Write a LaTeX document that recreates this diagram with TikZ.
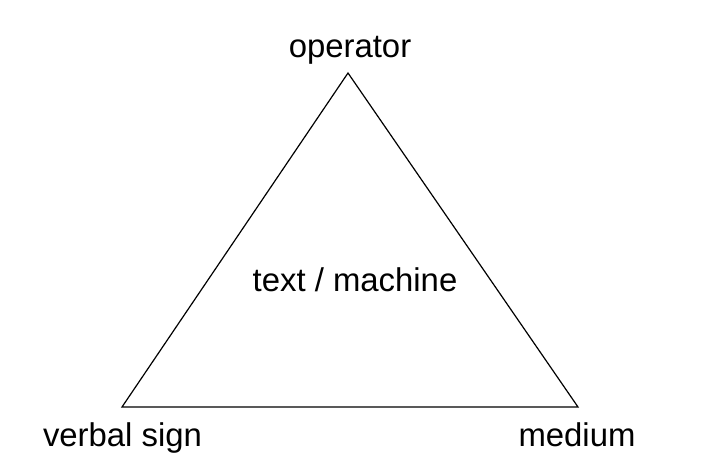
\documentclass[tikz,border=0pt]{standalone}
\usepackage{fontspec}
\setmainfont{Liberation Sans}
\begin{document}
\begin{tikzpicture}[x=1bp,y=-1bp,
  lbl/.style={font=\fontsize{33}{38}\selectfont, inner sep=0pt, anchor=base},
  edge/.style={draw=black, line width=1.2bp, line join=miter}]
\useasboundingbox (0,0) rectangle (709,469);
\coordinate (top) at (348,73);
\coordinate (bl) at (122,407);
\coordinate (br) at (578,407);
\draw[edge] (top) -- (bl) -- (br) -- cycle;
\node[lbl] (op) at (350,58) {operator};
\node[lbl] (tm) at (355,292) {text / machine};
\node[lbl] (vs) at (122.5,446) {verbal sign};
\node[lbl] (md) at (577,446) {medium};
\end{tikzpicture}
\end{document}
